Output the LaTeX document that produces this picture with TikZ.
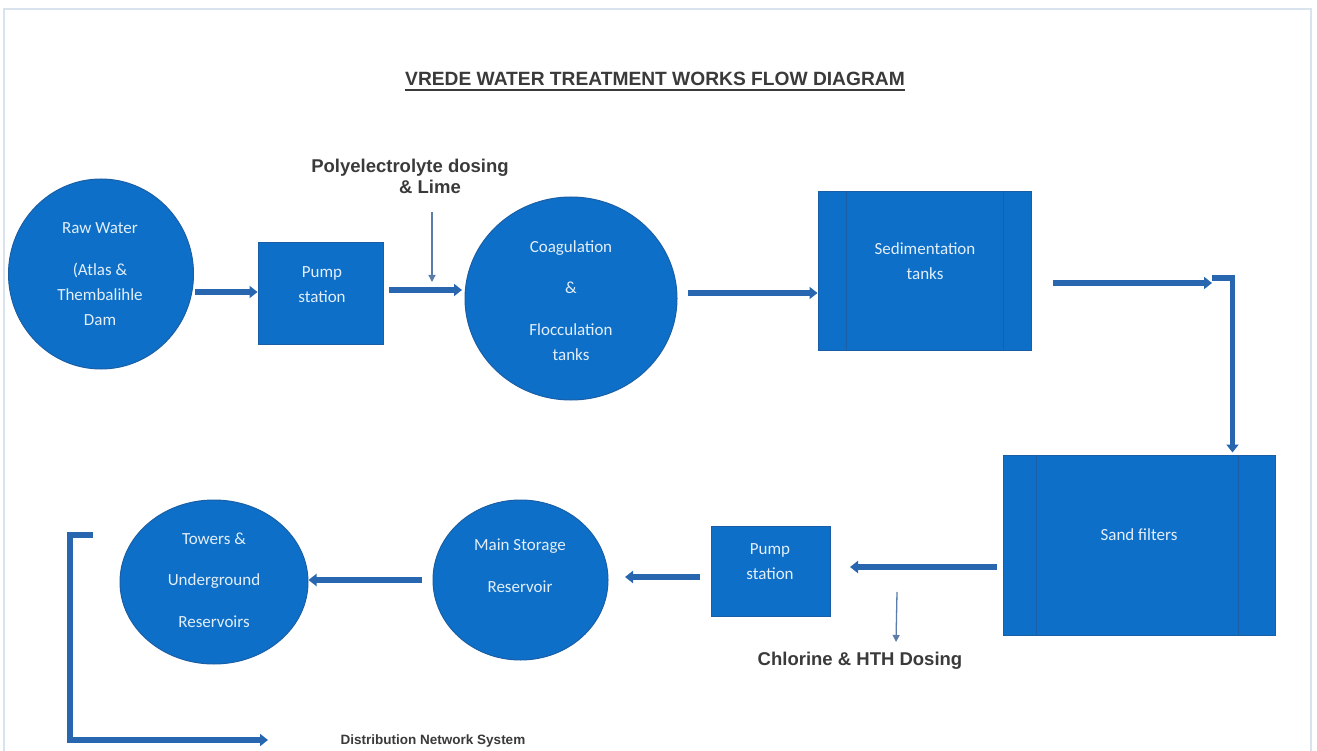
\documentclass[tikz,border=0pt]{standalone}
\usepackage{fontspec}
\setmainfont{Liberation Sans}
\newfontfamily\carl{Carlito}
\usetikzlibrary{arrows.meta,shapes.geometric,calc}
\definecolor{tankblue}{HTML}{0D6FC8}
\definecolor{tankedge}{HTML}{1A5FA6}
\definecolor{flowblue}{HTML}{2866B0}
\definecolor{dosegrey}{HTML}{5A7EA8}
\definecolor{labelgrey}{HTML}{3A3A3A}
\definecolor{framegrey}{HTML}{D8E3EE}

\begin{document}
\begin{tikzpicture}[x=1pt,y=-1pt,
  bubble/.style={ellipse,fill=tankblue,draw=tankedge,line width=1pt,inner sep=0pt},
  tank/.style={rectangle,fill=tankblue,draw=tankedge,line width=1pt,inner sep=0pt},
  intext/.style={text=white!88!tankblue,font=\carl\fontsize{17}{25}\selectfont,align=center,inner sep=0pt},
  flow/.style={draw=flowblue,line width=5.5pt,line join=miter,-{Triangle[length=8pt,width=12pt]}},
  dose/.style={draw=dosegrey,line width=1.3pt,-{Triangle[length=7pt,width=7pt]}},
  note/.style={text=labelgrey,font=\bfseries\fontsize{18.5}{20}\selectfont,inner sep=0pt},
  divider/.style={draw=tankedge,line width=1pt},
]
\useasboundingbox (0,0) rectangle (1317,751);
\fill[white] (0,0) rectangle (1317,751);
\draw[framegrey,line width=1.5pt] (4,800) -- (4,9) -- (1311,9) -- (1311,800);

% title
\node[text=labelgrey,font=\bfseries\fontsize{19.2}{21}\selectfont,inner sep=0pt] (title) at (655,79)
  {VREDE WATER TREATMENT WORKS FLOW DIAGRAM};
\draw[labelgrey,line width=1.6pt] ($(title.south west)+(0,4)$) -- ($(title.south east)+(0,4)$);

% upper row
\node[bubble,minimum width=185pt,minimum height=190pt] (raw) at (101,274) {};
\node[intext] (rawtxt) at (100,274) {Raw Water\\[17pt](Atlas \&\\Thembalihle\\Dam};

\node[tank,minimum width=125pt,minimum height=101pt] (pump1) at (320.5,293.5) {};
\node[intext] (pump1txt) at (322,285) {Pump\\station};

\node[bubble,minimum width=212pt,minimum height=203pt] (coag) at (571,298.5) {};
\node[intext] (coagtxt) at (571,301) {Coagulation\\[16pt]\&\\[17pt]Flocculation\\tanks};

\node[tank,minimum width=213pt,minimum height=158pt] (sed) at (924.5,271) {};
\draw[divider] ($(sed.north west)+(29,0)$) -- ($(sed.south west)+(29,0)$);
\draw[divider] ($(sed.north east)+(-28,0)$) -- ($(sed.south east)+(-28,0)$);
\node[intext] (sedtxt) at (925,261) {Sedimentation\\tanks};

% lower row
\node[tank,minimum width=272pt,minimum height=180pt] (sand) at (1139,545) {};
\draw[divider] ($(sand.north west)+(34,0)$) -- ($(sand.south west)+(34,0)$);
\draw[divider] ($(sand.north east)+(-37,0)$) -- ($(sand.south east)+(-37,0)$);
\node[intext] (sandtxt) at (1139,535) {Sand filters};

\node[tank,minimum width=119pt,minimum height=90pt] (pump2) at (770.5,571.5) {};
\node[intext] (pump2txt) at (770,562) {Pump\\station};

\node[bubble,minimum width=175pt,minimum height=160pt] (store) at (520.5,580) {};
\node[intext] (storetxt) at (520,566) {Main Storage\\[17pt]Reservoir};

\node[bubble,minimum width=188pt,minimum height=164pt] (tower) at (214,582) {};
\node[intext] (towertxt) at (214,580) {Towers \&\\[16pt]Underground\\[17pt]Reservoirs};

% chemical dosing notes
\node[note] (polytxt) at (410,168) {Polyelectrolyte dosing};
\node[note] (limetxt) at (430,187) {\& Lime};
\node[note] (chlortxt) at (860,661) {Chlorine \& HTH Dosing};
\node[text=labelgrey,font=\bfseries\fontsize{13.5}{15}\selectfont,inner sep=0pt] (disttxt) at (433,741) {Distribution Network System};

% flow connectors
\coordinate (f1) at (195,292);
\draw[flow] (f1) -- (f1 -| pump1.west);
\coordinate (f2) at (389,290);
\draw[flow] (f2) -- (462,290);
\coordinate (d1) at (432,212);
\draw[dose] (d1) -- (432,282);
\coordinate (f3) at (688,293);
\draw[flow] (f3) -- (f3 -| sed.west);
\coordinate (f4) at (1053,283);
\coordinate (bend) at (1212,283);
\draw[flow] (f4) -- (bend);
\coordinate (elbow) at (1212,278);
\coordinate (drop) at ($(sand.north east)+(-43,-2)$);
\draw[flow] (elbow) -| (drop);
\coordinate (f5) at (997,567);
\draw[flow] (f5) -- (850,567);
\coordinate (d2) at (897,592);
\draw[dose] (d2) -- (896,642);
\coordinate (f6) at (700,577);
\draw[flow] (f6) -- (625,577);
\coordinate (f7) at (422,580);
\draw[flow] (f7) -- (f7 -| tower.east);
\coordinate (b0) at (93,535);
\coordinate (b1) at (268,740);
\draw[flow] (b0) -- (70,535) |- (b1);
\end{tikzpicture}
\end{document}
